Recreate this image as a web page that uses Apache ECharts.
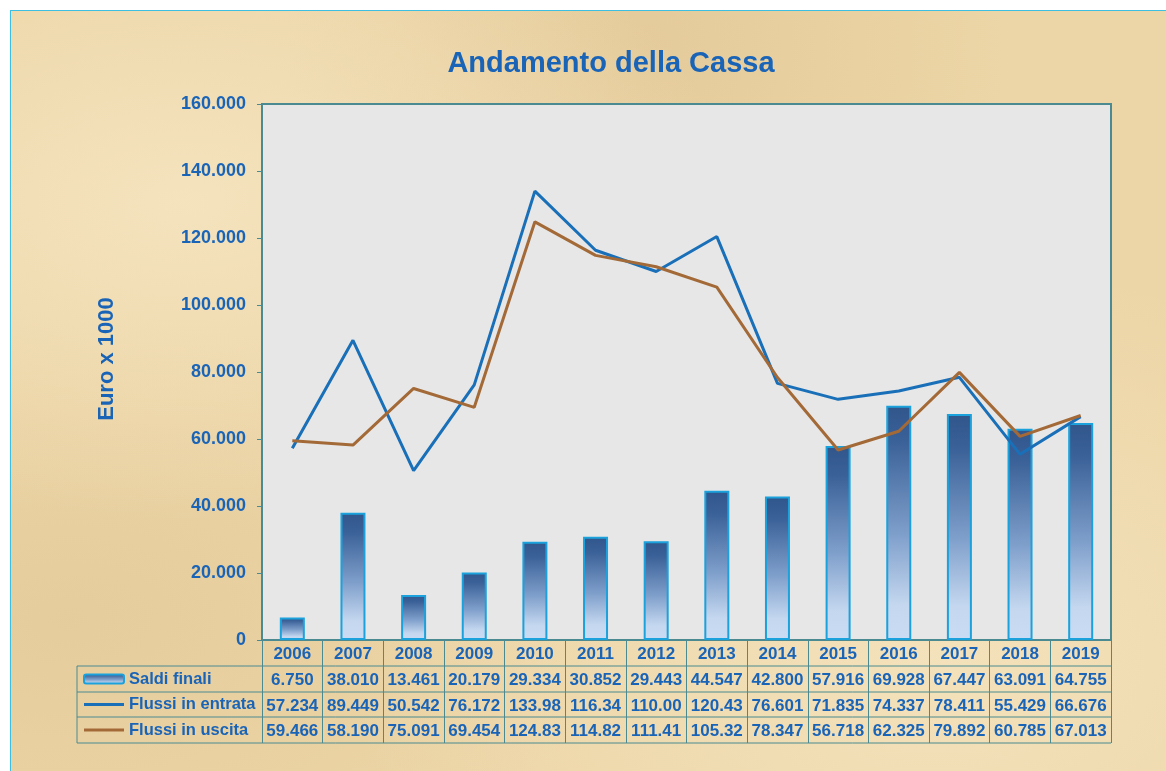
<!DOCTYPE html>
<html>
<head>
<meta charset="utf-8">
<title>Andamento della Cassa</title>
<script src="https://cdn.jsdelivr.net/npm/echarts@6/dist/echarts.min.js"></script>
<style>
  html, body { margin: 0; padding: 0; background: #fff; }
  #paper {
    position: absolute; left: 10px; top: 10px; width: 1156px; height: 761px;
    border-left: 1px solid #3cbfe0; border-top: 1px solid #3cbfe0;
    background-color: #ecd5a6;
    background-image:
      radial-gradient(ellipse at 15% 25%, rgba(250,236,205,0.6), rgba(250,236,205,0) 40%),
      radial-gradient(ellipse at 80% 85%, rgba(250,236,205,0.55), rgba(250,236,205,0) 45%),
      radial-gradient(ellipse at 55% 5%, rgba(215,185,135,0.35), rgba(215,185,135,0) 40%),
      radial-gradient(ellipse at 5% 80%, rgba(215,185,135,0.3), rgba(215,185,135,0) 35%);
  }
  #main { position: absolute; left: 0; top: 0; width: 1166px; height: 771px; }
</style>
</head>
<body>
<div id="paper"></div>
<div id="main"></div>
<script>
// dati (valori in euro x 1000, come da tabella)
const years = ["2006", "2007", "2008", "2009", "2010", "2011", "2012",
               "2013", "2014", "2015", "2016", "2017", "2018", "2019"];
const saldiFinali = [6750, 38010, 13461, 20179, 29334, 30852, 29443,
                     44547, 42800, 57916, 69928, 67447, 63091, 64755];
const flussiEntrata = [57234, 89449, 50542, 76172, 133980, 116340, 110000,
                       120430, 76601, 71835, 74337, 78411, 55429, 66676];
const flussiUscita = [59466, 58190, 75091, 69454, 124830, 114820, 111410,
                      105320, 78347, 56718, 62325, 79892, 60785, 67013];

const BLUE = "#1a64b8";
const TEAL = "#4a8a90";
const FONT = "'Liberation Sans', Arial, sans-serif";
const LINE_ICON = "path://M0,0L40,0L40,3L0,3Z";

// layout
const W = 1166, H = 771;
const GRID_LEFT = 262, GRID_RIGHT = 1111, GRID_TOP = 104, GRID_BOTTOM = 640;
const TABLE_LEFT = 77;
const ROW = [640, 666, 692, 717, 743]; // righe della tabella

function fmtIt(v) {
  return String(v).replace(/\B(?=(\d{3})+(?!\d))/g, ".");
}
function cell(v) {
  return fmtIt(v).slice(0, 6);
}

const chart = echarts.init(document.getElementById("main"), null, { renderer: "canvas" });

function tableAxis(values, idx) {
  return {
    type: "category",
    gridIndex: 0,
    position: "bottom",
    offset: ROW[idx] - ROW[0],
    data: years,
    axisLine: { show: false },
    axisTick: { show: false },
    splitLine: { show: false },
    axisLabel: {
      interval: 0,
      margin: (ROW[idx + 1] - ROW[idx]) / 2 + 1.5,
      verticalAlign: "middle",
      color: BLUE,
      fontFamily: FONT,
      fontWeight: "bold",
      fontSize: 17,
      formatter: (v, i) => cell(values[i]),
    },
  };
}

const tableLines = [];
ROW.slice(1).forEach((y) => {
  tableLines.push({
    type: "line",
    shape: { x1: TABLE_LEFT, y1: y, x2: GRID_RIGHT, y2: y },
    style: { stroke: TEAL, lineWidth: 1 },
    silent: true,
  });
});
tableLines.push({
  type: "line",
  shape: { x1: TABLE_LEFT, y1: ROW[1], x2: TABLE_LEFT, y2: ROW[4] },
  style: { stroke: TEAL, lineWidth: 1 },
  silent: true,
});

const option = {
  animation: false,
  backgroundColor: "transparent",
  textStyle: { fontFamily: FONT },
  title: {
    text: "Andamento della Cassa",
    left: 606,
    textAlign: "center",
    top: 44,
    textStyle: { color: BLUE, fontSize: 29, fontWeight: "bold", fontFamily: FONT },
  },
  legend: {
    orient: "vertical",
    left: 83,
    top: 669,
    padding: 0,
    itemWidth: 40,
    itemHeight: 9,
    itemGap: 5.5,
    selectedMode: false,
    textStyle: { color: BLUE, fontSize: 16.5, fontWeight: "bold", fontFamily: FONT, lineHeight: 20 },
    data: [
      { name: "Saldi finali" },
      { name: "Flussi in entrata", icon: LINE_ICON },
      { name: "Flussi in uscita", icon: LINE_ICON },
    ],
  },
  grid: {
    left: GRID_LEFT,
    right: W - GRID_RIGHT,
    top: GRID_TOP,
    bottom: H - GRID_BOTTOM,
    show: true,
    backgroundColor: "#e7e7e7",
    borderColor: TEAL,
    borderWidth: 2,
  },
  xAxis: [
    {
      type: "category",
      gridIndex: 0,
      position: "bottom",
      data: years,
      axisLine: { show: true, lineStyle: { color: TEAL, width: 2 } },
      axisTick: { show: true, interval: 0, length: ROW[4] - ROW[0], lineStyle: { color: TEAL, width: 1 } },
      splitLine: { show: false },
      axisLabel: {
        interval: 0,
        margin: (ROW[1] - ROW[0]) / 2 + 1.5,
        verticalAlign: "middle",
        color: BLUE,
        fontFamily: FONT,
        fontWeight: "bold",
        fontSize: 17,
      },
    },
    tableAxis(saldiFinali, 1),
    tableAxis(flussiEntrata, 2),
    tableAxis(flussiUscita, 3),
  ],
  yAxis: {
    type: "value",
    min: 0,
    max: 160000,
    interval: 20000,
    name: "Euro x 1000",
    nameLocation: "middle",
    nameRotate: 90,
    nameGap: 144,
    nameTextStyle: {
      color: BLUE, fontSize: 22, fontWeight: "bold", fontFamily: FONT,
      padding: [0, 0, 0, 26],
    },
    axisLine: { show: true, lineStyle: { color: TEAL, width: 2 } },
    axisTick: { show: true, length: 5, lineStyle: { color: TEAL } },
    splitLine: { show: false },
    axisLabel: {
      margin: 16,
      color: BLUE,
      fontFamily: FONT,
      fontWeight: "bold",
      fontSize: 18,
      formatter: (v) => fmtIt(v),
    },
  },
  series: [
    {
      name: "Saldi finali",
      type: "bar",
      data: saldiFinali,
      barWidth: 25,
      itemStyle: {
        color: new echarts.graphic.LinearGradient(0, 0, 0, 1, [
          { offset: 0, color: "#30568c" },
          { offset: 0.15, color: "#3a6198" },
          { offset: 0.55, color: "#7f9fcb" },
          { offset: 0.85, color: "#c4d7ef" },
          { offset: 1, color: "#c9dcf3" },
        ]),
        borderColor: "#1ba2dc",
        borderWidth: 2,
      },
    },
    {
      name: "Flussi in entrata",
      type: "line",
      data: flussiEntrata,
      symbol: "none",
      lineStyle: { color: "#1a70b8", width: 3 },
      itemStyle: { color: "#1a70b8" },
    },
    {
      name: "Flussi in uscita",
      type: "line",
      data: flussiUscita,
      symbol: "none",
      lineStyle: { color: "#a36a38", width: 3 },
      itemStyle: { color: "#a36a38" },
    },
  ],
  graphic: tableLines,
};

chart.setOption(option);
</script>
</body>
</html>
